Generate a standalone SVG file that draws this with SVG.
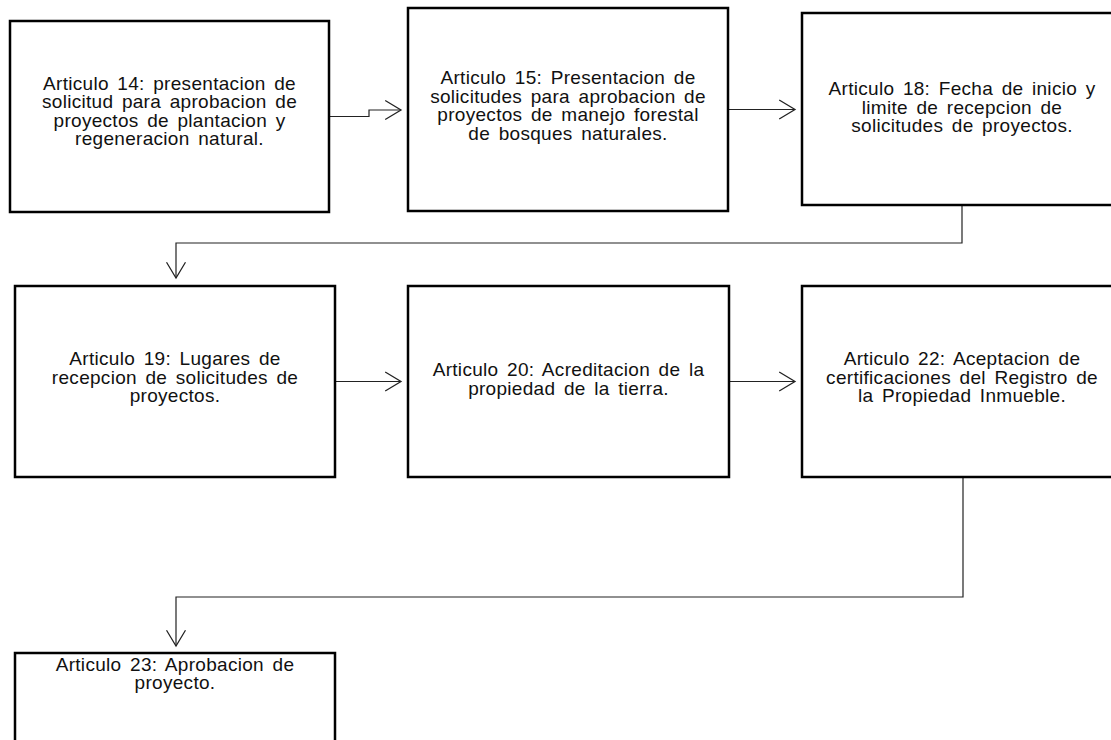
<svg xmlns="http://www.w3.org/2000/svg" width="1111" height="740" viewBox="0 0 1111 740">
<style>
.box{fill:#fff;stroke:#000;stroke-width:2.5}
.t{font-family:"Liberation Sans",Arial,sans-serif;font-size:19px;letter-spacing:0.3px;word-spacing:3px;fill:#111;text-anchor:middle}
.c{fill:none;stroke:#222;stroke-width:1.2}
</style>
<defs>
<marker id="ah" markerUnits="userSpaceOnUse" markerWidth="20" markerHeight="24" viewBox="-17 -11 19 22" refX="0" refY="0" orient="auto">
<path d="M-15,-9 L0,0 L-15,9" fill="none" stroke="#222" stroke-width="1.2"/>
</marker>
</defs>
<rect width="1111" height="740" fill="#fff"/>
<g id="connectors">
<path class="c" d="M329,116.5 H369 V110 H401" marker-end="url(#ah)"/>
<path class="c" d="M728,109.5 H795" marker-end="url(#ah)"/>
<path class="c" d="M962,205 V243 H176 V278" marker-end="url(#ah)"/>
<path class="c" d="M335,381.5 H401" marker-end="url(#ah)"/>
<path class="c" d="M729,381.5 H795" marker-end="url(#ah)"/>
<path class="c" d="M963,477 V597 H176 V646" marker-end="url(#ah)"/>
</g>
<g id="n14">
<rect class="box" x="10" y="21" width="319" height="191"/>
<text class="t"><tspan x="169.5" y="89.5">Articulo 14: presentacion de</tspan><tspan x="169.5" y="108">solicitud para aprobacion de</tspan><tspan x="169.5" y="126.5">proyectos de plantacion y</tspan><tspan x="169.5" y="145">regeneracion natural.</tspan></text>
</g>
<g id="n15">
<rect class="box" x="408" y="8" width="320" height="203"/>
<text class="t"><tspan x="568" y="84">Articulo 15: Presentacion de</tspan><tspan x="568" y="102.5">solicitudes para aprobacion de</tspan><tspan x="568" y="121">proyectos de manejo forestal</tspan><tspan x="568" y="139.5">de bosques naturales.</tspan></text>
</g>
<g id="n18">
<rect class="box" x="802" y="13" width="320" height="192"/>
<text class="t"><tspan x="962" y="95">Articulo 18: Fecha de inicio y</tspan><tspan x="962" y="113.5">limite de recepcion de</tspan><tspan x="962" y="132">solicitudes de proyectos.</tspan></text>
</g>
<g id="n19">
<rect class="box" x="15" y="286" width="320" height="191"/>
<text class="t"><tspan x="175" y="365">Articulo 19: Lugares de</tspan><tspan x="175" y="383.5">recepcion de solicitudes de</tspan><tspan x="175" y="402">proyectos.</tspan></text>
</g>
<g id="n20">
<rect class="box" x="408" y="286" width="321" height="191"/>
<text class="t"><tspan x="568.5" y="376">Articulo 20: Acreditacion de la</tspan><tspan x="568.5" y="394.5">propiedad de la tierra.</tspan></text>
</g>
<g id="n22">
<rect class="box" x="802" y="286" width="320" height="191"/>
<text class="t"><tspan x="962" y="365">Articulo 22: Aceptacion de</tspan><tspan x="962" y="383.5">certificaciones del Registro de</tspan><tspan x="962" y="402">la Propiedad Inmueble.</tspan></text>
</g>
<g id="n23">
<rect class="box" x="15" y="653" width="320" height="191"/>
<text class="t"><tspan x="175" y="670.5">Articulo 23: Aprobacion de</tspan><tspan x="175" y="689">proyecto.</tspan></text>
</g>
</svg>
